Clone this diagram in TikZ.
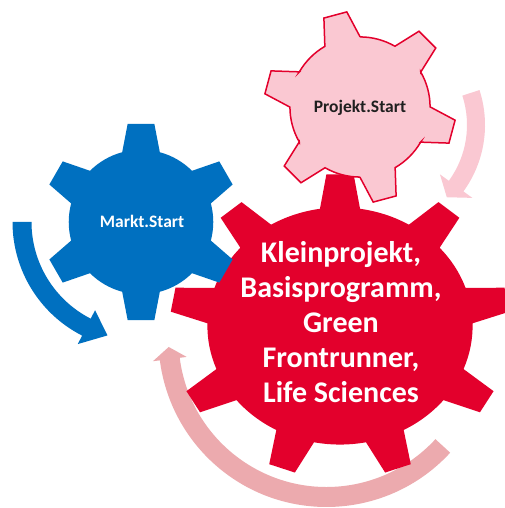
\documentclass[tikz,border=0pt]{standalone}
\usepackage{fontspec}
\setmainfont{Carlito}
\definecolor{blueC}{RGB}{0,112,192}
\definecolor{redC}{RGB}{227,0,44}
\definecolor{pinkC}{RGB}{250,200,210}
\definecolor{salmonC}{RGB}{236,170,174}
\tikzset{
  bigtext/.style={font=\bfseries\fontsize{30}{35}\selectfont, text=white, align=center, inner sep=0pt},
  smalltext/.style={font=\bfseries\fontsize{17.5}{20}\selectfont, anchor=base, inner sep=0pt},
}
\begin{document}
\begin{tikzpicture}[x=1pt,y=1pt]
\useasboundingbox[fill=white] (0,0) rectangle (505,508);

% big salmon arrow around red gear
\fill[salmonC, shift={(326.5,169)}]
  (-42.6:168) arc[start angle=-42.6, end angle=-172.7, radius=168]
  -- (-172.7:175) -- (-177.1:158) -- (-172.7:141) -- (-172.7:148)
  arc[start angle=-172.7, end angle=-42.6, radius=148] -- cycle;

% small pink arrow beside pink gear
\fill[pinkC, shift={(372,383)}]
  (18:113) arc[start angle=18, end angle=-36, radius=113]
  -- (-36:124) -- (-44:104) -- (-36:84) -- (-36:95)
  arc[start angle=-36, end angle=18, radius=95] -- cycle;

% blue arrow beside blue gear
\fill[blueC, shift={(140,286)}]
  (180:127.5) arc[start angle=180, end angle=243, radius=127.5]
  -- (243:137) -- (254:118) -- (243:99) -- (243:108.5)
  arc[start angle=243, end angle=180, radius=108.5] -- cycle;

% red gear (9 teeth)
\fill[redC, shift={(340,182)}, xscale=170, yscale=152]
  (1.3:0.78) foreach \i in {0,...,8} {
    -- ({10+40*\i-8.7}:0.78) -- ({10+40*\i-4.6}:1) -- ({10+40*\i+4.6}:1) -- ({10+40*\i+8.7}:0.78)
    arc[start angle={10+40*\i+8.7}, end angle={50+40*\i-8.7}, radius=0.78]
  } -- cycle;

% blue gear (6 teeth)
\fill[blueC, shift={(141,286)}, xscale=99, yscale=99]
  (14.9:0.73) foreach \i in {0,...,5} {
    -- ({30+60*\i-15.1}:0.73) -- ({30+60*\i-7.75}:1) -- ({30+60*\i+7.75}:1) -- ({30+60*\i+15.1}:0.73)
    arc[start angle={30+60*\i+15.1}, end angle={90+60*\i-15.1}, radius=0.73]
  } -- cycle;

% pink gear (6 teeth)
\filldraw[fill=pinkC, draw=redC, line width=1.5pt, line join=miter, shift={(360,401)}, xscale=96, yscale=96]
  (29.9:0.73) foreach \i in {0,...,5} {
    -- ({45+60*\i-15.1}:0.73) -- ({45+60*\i-7.1}:1) -- ({45+60*\i+7.1}:1) -- ({45+60*\i+15.1}:0.73)
    arc[start angle={45+60*\i+15.1}, end angle={105+60*\i-15.1}, radius=0.73]
  } -- cycle;

\node[bigtext] (main) at (341,186) {Kleinprojekt,\\Basisprogramm,\\Green\\Frontrunner,\\Life Sciences};
\node[smalltext, text=white] (markt) at (142,280) {Markt.Start};
\node[smalltext, text=black!88] (projekt) at (360,395) {Projekt.Start};
\end{tikzpicture}
\end{document}
